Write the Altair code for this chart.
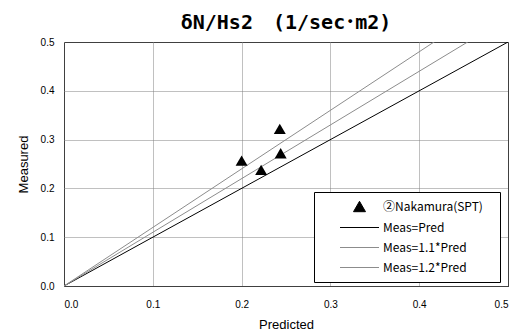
import altair as alt
import pandas as pd

# measured points (Predicted, Measured)
pred = [0.200, 0.222, 0.243, 0.244]
meas = [0.257, 0.238, 0.322, 0.272]
point_label = "②Nakamura(SPT)"

# reference lines Meas = k * Pred
line_labels = ["Meas=Pred", "Meas=1.1*Pred", "Meas=1.2*Pred"]
line_slopes = [1.0, 1.1, 1.2]
line_x = [0.0, 0.5]

axis_ticks = [0.0, 0.1, 0.2, 0.3, 0.4, 0.5]

series = [point_label] + line_labels
series_colors = ["#000000", "#000000", "#8c8c8c", "#8c8c8c"]
series_shapes = ["triangle-up", "M-3.25,0H3.25", "M-3.25,0H3.25", "M-3.25,0H3.25"]

pts = pd.DataFrame({"Predicted": pred, "Measured": meas, "series": point_label})
rows = []
for lab, k in zip(line_labels, line_slopes):
    for x in line_x:
        rows.append({"Predicted": x, "Measured": k * x, "series": lab})
lines = pd.DataFrame(rows)

xs = alt.Scale(domain=[0, 0.5], nice=False)
ys = alt.Scale(domain=[0, 0.5], nice=False)
color_scale = alt.Scale(domain=series, range=series_colors)
shape_scale = alt.Scale(domain=series, range=series_shapes)

leg = alt.Legend(title="\u2003", titleOrient="right", orient="none", legendX=250, legendY=150)

xenc = alt.X("Predicted:Q", scale=xs, title="Predicted",
             axis=alt.Axis(values=axis_ticks, format=".1f"))
yenc = alt.Y("Measured:Q", scale=ys, title="Measured",
             axis=alt.Axis(values=axis_ticks, format=".1f"))

line_layer = alt.Chart(lines).mark_line(clip=True, strokeWidth=1).encode(
    x=xenc, y=yenc,
    stroke=alt.Stroke("series:N", scale=color_scale, legend=leg),
)

point_layer = alt.Chart(pts).mark_point(filled=True, size=144, opacity=1, strokeWidth=0).encode(
    x=xenc, y=yenc,
    fill=alt.Fill("series:N", scale=color_scale, legend=leg),
    stroke=alt.Stroke("series:N", scale=color_scale, legend=leg),
    shape=alt.Shape("series:N", scale=shape_scale, legend=leg),
)

chart = alt.layer(line_layer, point_layer).properties(
    width=444, height=244,
    autosize=alt.AutoSizeParams(type="none"),
    padding={"left": 64, "top": 42, "right": 9, "bottom": 47},
    title=alt.Title("δN/Hs2\u3000(1/sec･m2)", font="DejaVu Sans Mono, Noto Sans CJK JP", fontSize=20,
                    fontWeight="bold", anchor="middle", offset=4, color="#000"),
).configure_view(
    stroke="#000", strokeWidth=1
).configure_axis(
    labelFont="Liberation Sans", labelFontSize=10, labelColor="#000",
    titleFont="Liberation Sans", titleFontSize=13, titleFontWeight="normal", titleColor="#000",
    grid=True, gridColor="#808080", gridDash=[1, 1], gridWidth=1,
    domain=False, ticks=False,
).configure_axisX(
    labelPadding=13, titlePadding=9,
).configure_axisY(
    labelPadding=10, titlePadding=10,
).configure_legend(
    strokeColor="#000", fillColor="#fff", padding=8,
    symbolOffset=31, labelOffset=17,
    labelFont="Noto Sans CJK JP", labelFontSize=12, labelColor="#000",
    titleFontSize=12, titlePadding=9,
    symbolSize=144, symbolStrokeWidth=1, rowPadding=7,
)

chart.save("out.html", embed_options={"renderer": "svg", "actions": False})
